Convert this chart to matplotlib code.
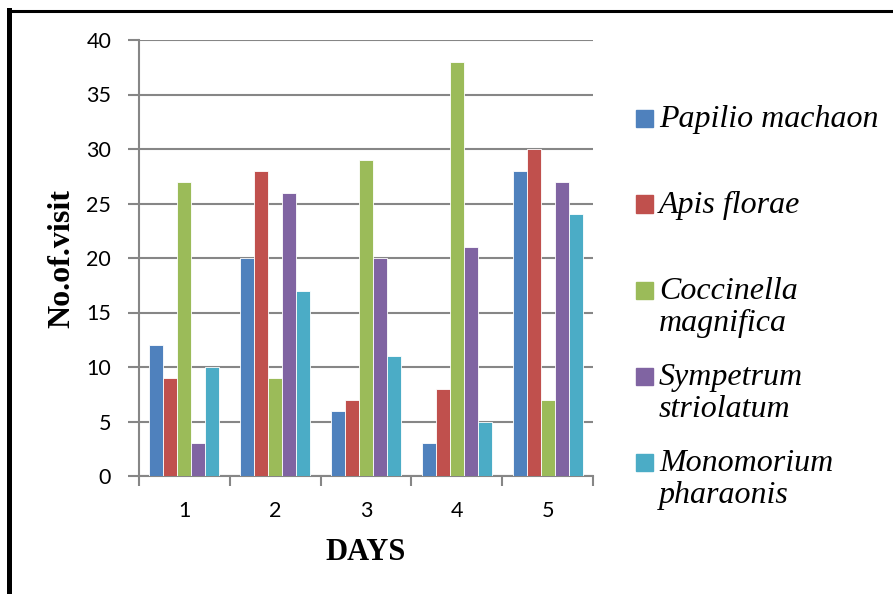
import matplotlib
matplotlib.use("Agg")
import matplotlib.pyplot as plt
import numpy as np
from matplotlib.lines import Line2D
from matplotlib.patches import Rectangle
from matplotlib import font_manager as fm

days = ["1", "2", "3", "4", "5"]
species = ["Papilio machaon", "Apis florae", "Coccinella\nmagnifica",
           "Sympetrum\nstriolatum", "Monomorium\npharaonis"]
papilio = [12, 20, 6, 3, 28]
apis = [9, 28, 7, 8, 30]
coccinella = [27, 9, 29, 38, 7]
sympetrum = [3, 26, 20, 21, 27]
monomorium = [10, 17, 11, 5, 24]
series = [papilio, apis, coccinella, sympetrum, monomorium]
colors = ["#4F81BD", "#C0504D", "#9BBB59", "#8064A2", "#4BACC6"]
yticks = [0, 5, 10, 15, 20, 25, 30, 35, 40]

# find a Times-like italic font file
ital_path = None
for f in fm.findSystemFonts():
    n = f.replace("\\", "/").split("/")[-1].lower()
    if n.startswith("liberationserif-italic"):
        ital_path = f
        break
if ital_path:
    ital_fp = fm.FontProperties(fname=ital_path, size=23)
else:
    ital_fp = fm.FontProperties(family="DejaVu Serif", style="italic", size=20)

W, H = 893, 594
fig = plt.figure(figsize=(W / 100, H / 100), dpi=100)
ax = fig.add_axes([139 / W, 1 - 476 / H, (593 - 139) / W, (476 - 40) / H])

x = np.arange(len(days))
bw = 1 / 6.5
for i, (vals, c) in enumerate(zip(series, colors)):
    ax.bar(x + (i - 2) * bw, vals, width=bw, color=c, edgecolor="white",
           linewidth=0.6, zorder=3)

grid_c = "#868686"
ax.set_xlim(-0.5, len(days) - 0.5)
ax.set_ylim(0, 40)
ax.set_yticks(yticks)
ax.yaxis.grid(True, color=grid_c, linewidth=1.5, zorder=0)
ax.set_xticks(x)
ax.set_xticklabels(days)
ax.set_xticks(np.arange(len(days) + 1) - 0.5, minor=True)
ax.tick_params(axis="x", which="major", length=0, pad=18)
ax.tick_params(axis="x", which="minor", length=7, width=1.5, color=grid_c, direction="out")
ax.tick_params(axis="y", length=8, width=1.5, color=grid_c, pad=12)
for s in ["top", "right"]:
    ax.spines[s].set_visible(False)
for s in ["left", "bottom"]:
    ax.spines[s].set_color(grid_c)
    ax.spines[s].set_linewidth(1.5)
for lab in ax.get_xticklabels() + ax.get_yticklabels():
    lab.set_fontfamily("Lato")
    lab.set_fontsize(15.5)

fig.text(366 / W, 1 - 553 / H, "DAYS", family="Liberation Serif", weight="bold",
         fontsize=22, ha="center", va="center")
fig.text(62 / W, 1 - 258 / H, "No.of.visit", family="Liberation Serif", weight="bold",
         fontsize=23, ha="center", va="center", rotation=90)

# legend drawn manually (top-aligned entries)
y0 = 118
for i, (name, c) in enumerate(zip(species, colors)):
    yc = y0 + 86 * i
    fig.patches.append(Rectangle((636 / W, 1 - (yc + 8.5) / H), 17 / W, 17 / H,
                                 transform=fig.transFigure, color=c, figure=fig))
    fig.text(659 / W, 1 - (yc - 13) / H, name, fontproperties=ital_fp,
             ha="left", va="top", linespacing=1.15)

# outer frame (left and top)
fig.add_artist(Line2D([8.5 / W, 8.5 / W], [0, 1 - 10 / H], color="black",
                      linewidth=3.6, transform=fig.transFigure, solid_capstyle="projecting"))
fig.add_artist(Line2D([8.5 / W, 1], [1 - 11.3 / H, 1 - 11.3 / H], color="black",
                      linewidth=2.2, transform=fig.transFigure))

fig.savefig("out.png", dpi=100)
